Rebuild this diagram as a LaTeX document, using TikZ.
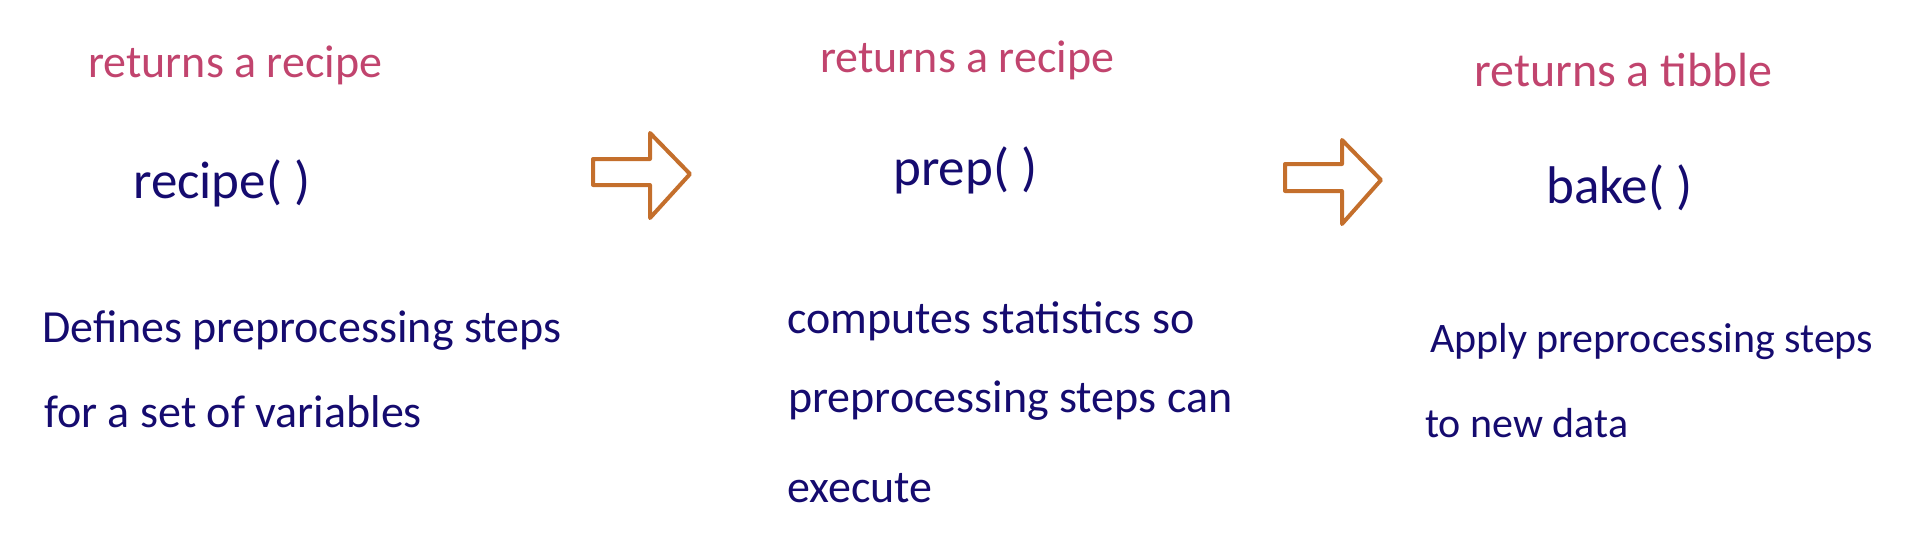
\documentclass[tikz,border=0pt]{standalone}
\usepackage{fontspec}
\setmainfont{Carlito}
\definecolor{titlepink}{HTML}{C1446E}
\definecolor{inknavy}{HTML}{150B6F}
\definecolor{arroworange}{HTML}{C46F2C}

\tikzset{
  returns/.style={titlepink,anchor=base west,inner sep=0pt,
    font=\fontsize{46}{46}\selectfont},
  fname/.style={inknavy,anchor=base west,inner sep=0pt,
    font=\fontsize{53}{53}\selectfont},
  descr/.style={inknavy,anchor=base west,inner sep=0pt,
    font=\fontsize{46}{46}\selectfont},
  blockarrow/.style={arroworange,line width=4pt,line join=round}
}

\begin{document}
\begin{tikzpicture}[x=1pt,y=-1pt]
  \useasboundingbox (0,0) rectangle (1919,546);

  \node[returns] (ret1) at (88,77) {returns a recipe};
  \node[fname] (recipe) at (133,198) {recipe( )};
  \node[descr] (def1) at (42,342) {Defines preprocessing steps};
  \node[descr] (def2) at (44,427) {for a set of variables};

  \draw[blockarrow] (593,159) -- (650,159) -- (650,133) -- (690,174)
    -- (650,218) -- (650,185) -- (593,185) -- cycle;

  \node[returns] (ret2) at (820,72) {returns a recipe};
  \node[fname] (prep) at (893,185) {prep( )};
  \node[descr] (comp1) at (787,333) {computes statistics so};
  \node[descr] (comp2) at (788,412) {preprocessing steps can};
  \node[descr] (comp3) at (787,502) {execute};

  \draw[blockarrow] (1285,164) -- (1342,164) -- (1342,140) -- (1381,180)
    -- (1342,224) -- (1342,191) -- (1285,191) -- cycle;

  \node[returns,font=\fontsize{48}{48}\selectfont] (ret3) at (1474,86) {returns a tibble};
  \node[fname] (bake) at (1546,203) {bake( )};
  \node[descr,font=\fontsize{42}{42}\selectfont] (apply1) at (1430,352) {Apply preprocessing steps};
  \node[descr,font=\fontsize{42}{42}\selectfont] (apply2) at (1425,437) {to new data};
\end{tikzpicture}
\end{document}
